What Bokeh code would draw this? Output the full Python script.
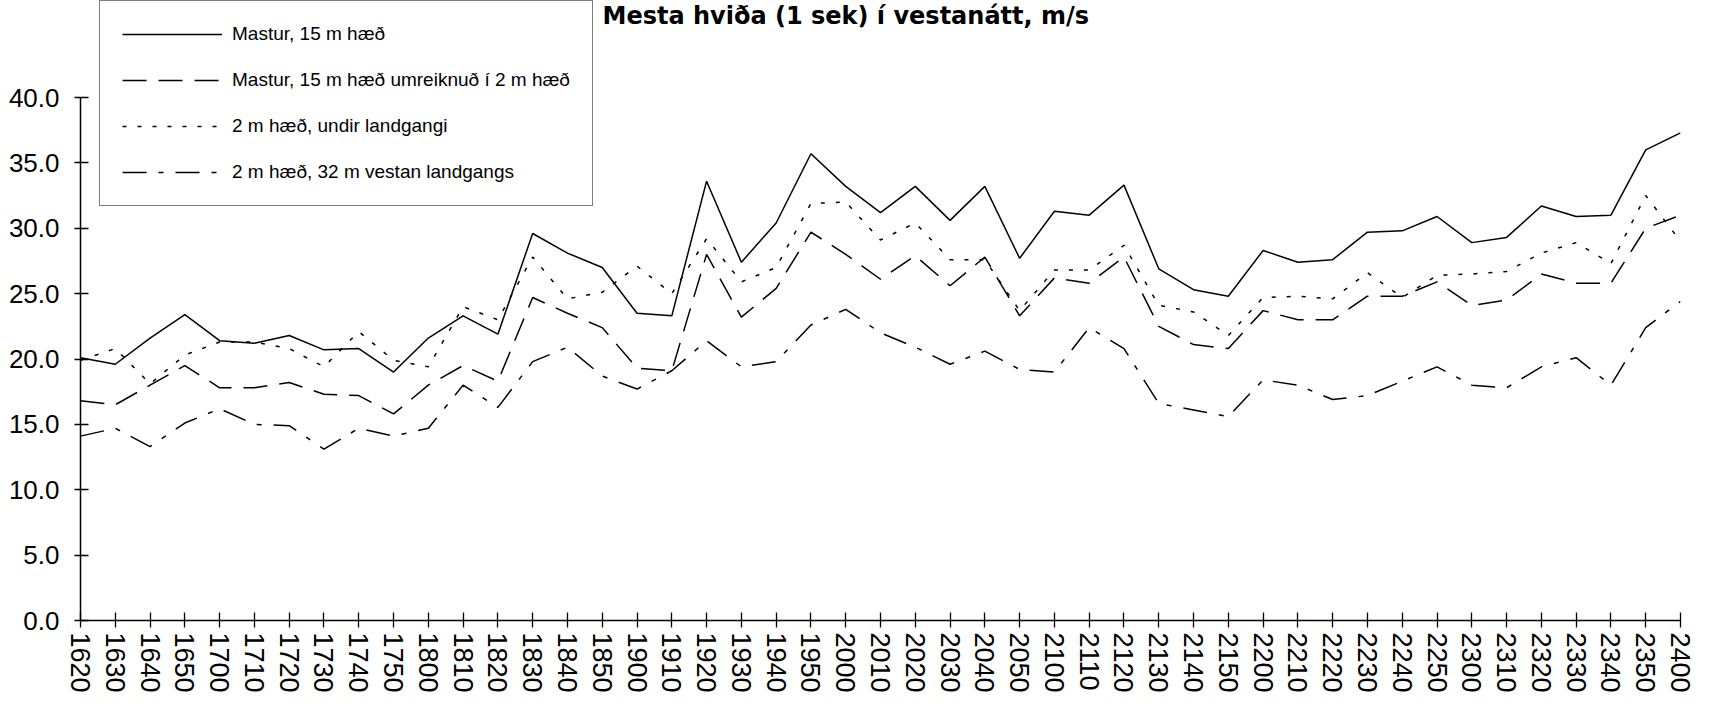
from bokeh.plotting import figure
from bokeh.models import (FixedTicker, Legend, LegendItem, Label, ColumnDataSource, Range1d)
from bokeh.embed import file_html
from bokeh.resources import INLINE

# ---------------- data ----------------
times = ["1620", "1630", "1640", "1650",
         "1700", "1710", "1720", "1730", "1740", "1750",
         "1800", "1810", "1820", "1830", "1840", "1850",
         "1900", "1910", "1920", "1930", "1940", "1950",
         "2000", "2010", "2020", "2030", "2040", "2050",
         "2100", "2110", "2120", "2130", "2140", "2150",
         "2200", "2210", "2220", "2230", "2240", "2250",
         "2300", "2310", "2320", "2330", "2340", "2350",
         "2400"]

mastur_15m = [20.1, 19.6, 21.6, 23.4,
              21.4, 21.2, 21.8, 20.7, 20.8, 19.0,
              21.6, 23.3, 21.9, 29.6, 28.1, 27.0,
              23.5, 23.3, 33.6, 27.4, 30.4, 35.7,
              33.2, 31.2, 33.2, 30.6, 33.2, 27.7,
              31.3, 31.0, 33.3, 26.9, 25.3, 24.8,
              28.3, 27.4, 27.6, 29.7, 29.8, 30.9,
              28.9, 29.3, 31.7, 30.9, 31.0, 36.0,
              37.3]

mastur_2m = [16.8, 16.5, 18.0, 19.5,
             17.8, 17.8, 18.2, 17.3, 17.2, 15.8,
             18.0, 19.5, 18.3, 24.7, 23.5, 22.4,
             19.3, 19.1, 28.0, 23.2, 25.4, 29.7,
             28.0, 26.1, 27.9, 25.6, 27.8, 23.3,
             26.2, 25.8, 27.8, 22.5, 21.1, 20.8,
             23.7, 23.0, 23.0, 24.8, 24.8, 25.9,
             24.1, 24.5, 26.5, 25.8, 25.8, 30.0,
             31.0]

undir_landgangi = [19.9, 20.8, 18.1, 20.3,
                   21.3, 21.3, 20.8, 19.4, 22.1, 19.9,
                   19.4, 24.0, 23.0, 27.8, 24.6, 25.1,
                   27.1, 25.0, 29.2, 25.9, 27.0, 31.9,
                   32.0, 29.1, 30.4, 27.6, 27.6, 23.7,
                   26.8, 26.8, 28.7, 24.1, 23.6, 21.8,
                   24.7, 24.8, 24.6, 26.6, 24.7, 26.4,
                   26.5, 26.7, 28.1, 28.9, 27.3, 32.5,
                   29.0]

vestan_landgangs = [14.1, 14.7, 13.3, 15.1,
                    16.2, 15.0, 14.9, 13.1, 14.7, 14.1,
                    14.7, 18.0, 16.3, 19.8, 20.9, 18.7,
                    17.7, 19.1, 21.4, 19.4, 19.8, 22.6,
                    23.8, 22.0, 20.9, 19.6, 20.6, 19.2,
                    19.0, 22.4, 20.8, 16.6, 16.1, 15.6,
                    18.4, 18.0, 16.9, 17.2, 18.3, 19.4,
                    18.0, 17.8, 19.4, 20.1, 18.0, 22.4,
                    24.4]

series_names = ["Mastur, 15 m hæð",
                "Mastur, 15 m hæð umreiknuð í 2 m hæð",
                "2 m hæð, undir landgangi",
                "2 m hæð, 32 m vestan landgangs"]

y_ticks = [0, 5, 10, 15, 20, 25, 30, 35, 40]
y_tick_labels = ["0.0", "5.0", "10.0", "15.0", "20.0", "25.0", "30.0", "35.0", "40.0"]

title_text = "Mesta hviða (1 sek) í vestanátt, m/s"

# ---------------- figure ----------------
idx = list(range(len(times)))
src = ColumnDataSource(dict(x=idx, s1=mastur_15m, s2=mastur_2m,
                            s3=undir_landgangi, s4=vestan_landgangs))

FONT = "Liberation Sans"

# frame spans canvas y 0..620; the 40.0 tick sits at canvas y 97
FRAME_H = 620
Y40_PX = 97
y_top = 40 * FRAME_H / (FRAME_H - Y40_PX)

p = figure(width=1695, height=697, output_backend="svg", toolbar_location=None,
           x_range=Range1d(0, len(times) - 1), y_range=Range1d(0, y_top),
           min_border_left=80, min_border_right=15, min_border_top=0,
           min_border_bottom=77)
p.outline_line_color = None
p.xgrid.visible = False
p.ygrid.visible = False
p.background_fill_color = "white"
p.border_fill_color = "white"

# x axis
xa = p.xaxis[0]
xa.ticker = FixedTicker(ticks=idx)
xa.major_label_overrides = {i: t for i, t in enumerate(times)}
xa.major_label_orientation = "vertical"
xa.major_label_text_font = FONT
xa.major_label_text_font_size = "27px"
xa.major_label_text_color = "black"
xa.major_label_standoff = 5
xa.major_tick_in = 8
xa.major_tick_out = 7
xa.minor_tick_line_color = None
xa.axis_line_width = 1.5
xa.major_tick_line_width = 1.3
xa.axis_line_color = "black"
xa.major_tick_line_color = "black"

# y axis
ya = p.yaxis[0]
ya.ticker = FixedTicker(ticks=y_ticks)
ya.bounds = (0, 40)
ya.major_label_overrides = {t: l for t, l in zip(y_ticks, y_tick_labels)}
ya.major_label_text_font = FONT
ya.major_label_text_font_size = "26px"
ya.major_label_text_color = "black"
ya.major_label_standoff = 15
ya.major_tick_in = 8
ya.major_tick_out = 6
ya.minor_tick_line_color = None
ya.axis_line_width = 1.5
ya.major_tick_line_width = 1.3
ya.axis_line_color = "black"
ya.major_tick_line_color = "black"

# lines
r1 = p.line("x", "s1", source=src, line_color="black", line_width=1.5)
r2 = p.line("x", "s2", source=src, line_color="black", line_width=1.5,
            line_dash="24 12")
r3 = p.line("x", "s3", source=src, line_color="black", line_width=1.5,
            line_dash="4 11")
r4 = p.line("x", "s4", source=src, line_color="black", line_width=1.5,
            line_dash="24 12 5 12")

legend = Legend(items=[LegendItem(label=n, renderers=[r]) for n, r in
                       zip(series_names, [r1, r2, r3, r4])],
                location=(19, 414),
                border_line_color="black", border_line_width=1.5,
                background_fill_color="white", background_fill_alpha=1.0,
                label_text_font=FONT, label_text_font_size="19px",
                label_text_color="black",
                glyph_width=100, glyph_height=22, label_height=22,
                label_width=332, label_standoff=10,
                padding=22, spacing=24, margin=0)
p.add_layout(legend)

title = Label(x=522, y=619, x_units="screen", y_units="screen", text=title_text,
              text_font="DejaVu Sans", text_font_style="bold", text_font_size="24px",
              text_align="left", text_baseline="top", text_color="black")
p.add_layout(title)

open("out.html", "w").write(file_html(p, INLINE))
